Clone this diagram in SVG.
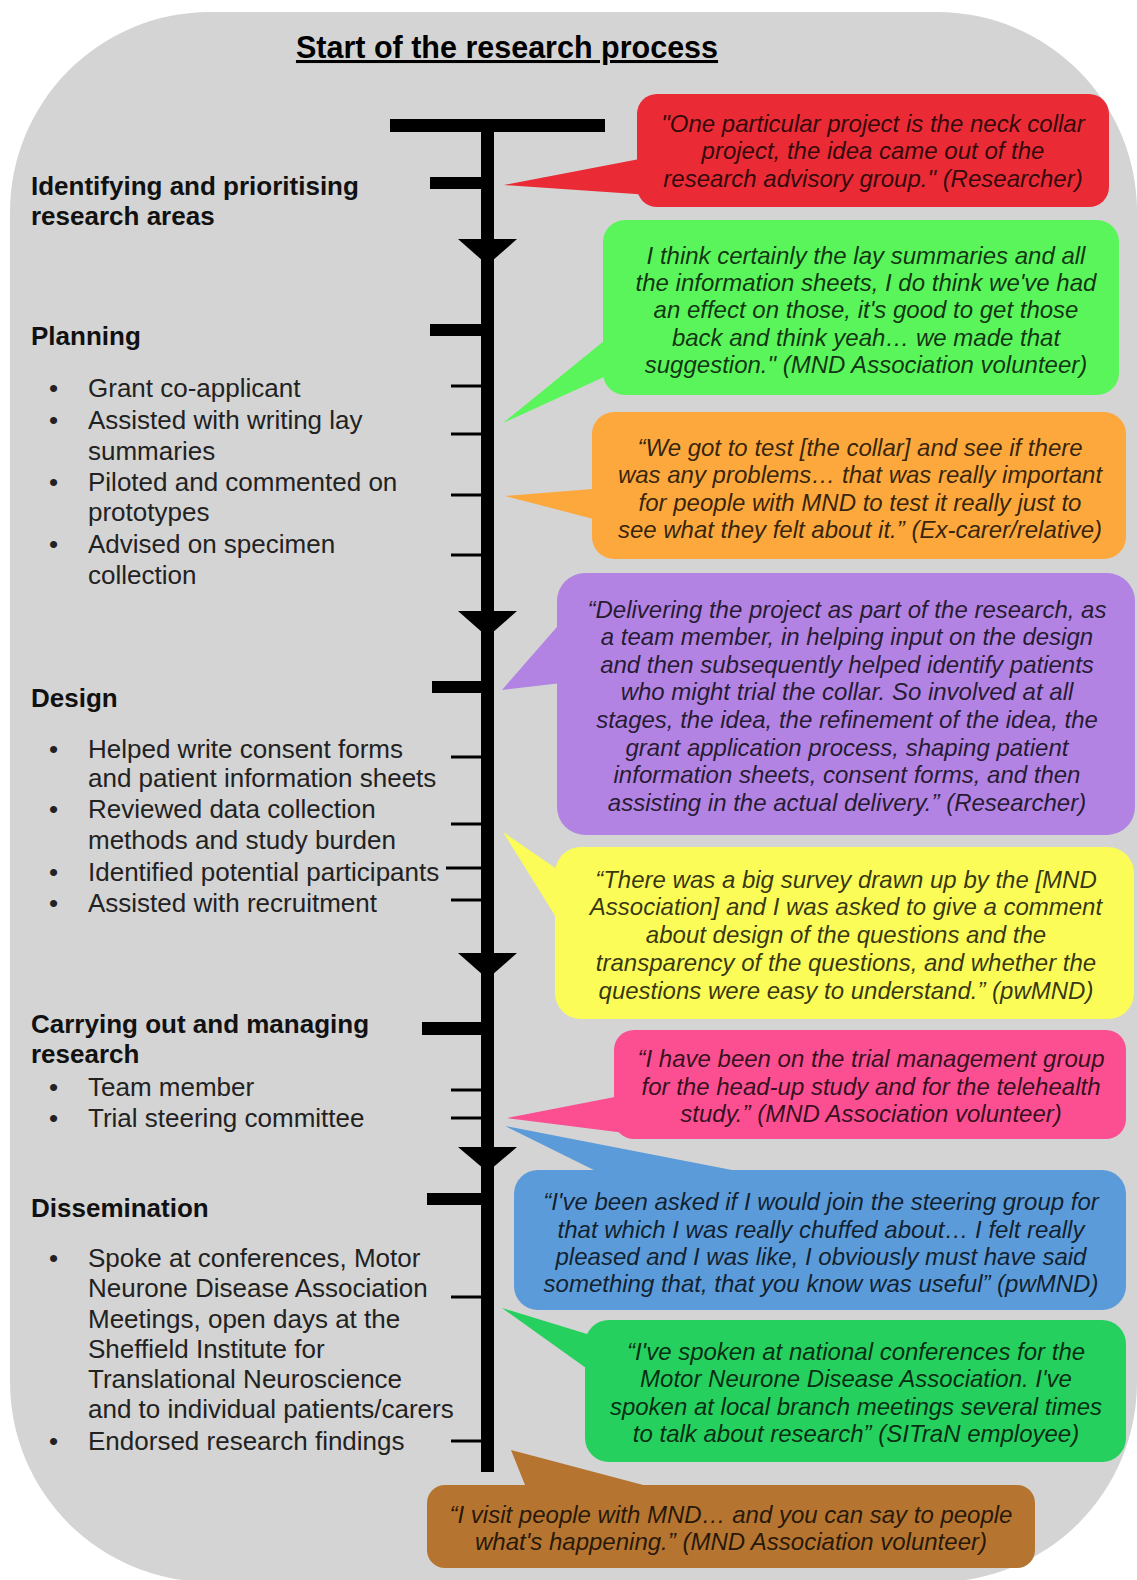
<svg xmlns="http://www.w3.org/2000/svg" width="1137" height="1580" viewBox="0 0 1137 1580">
<style>
.h{font-family:"Liberation Sans",Arial,sans-serif;font-weight:bold;font-size:26px;fill:#111}
.b{font-family:"Liberation Sans",Arial,sans-serif;font-size:26px;fill:#222}
.q{font-family:"Liberation Sans",Arial,sans-serif;font-style:italic;font-size:24px;fill:#000;fill-opacity:0.8;text-anchor:middle}
.tl{fill:#000}
.tk{fill:#000}
</style>
<rect id="background" x="10" y="12" width="1127" height="1570" rx="200" ry="200" fill="#d4d4d4"/>
<g id="title">
<text x="507" y="58" text-anchor="middle" font-family="Liberation Sans, Arial, sans-serif" font-weight="bold" font-size="30.5" text-decoration="underline" fill="#000">Start of the research process</text>
</g>

<g id="connectors">
<rect class="tl" x="390" y="119" width="215" height="13"/>
<rect class="tl" x="481" y="125" width="13" height="1347"/>
<polygon class="tl" points="458,239 517,239 487.5,265"/>
<polygon class="tl" points="458,611 517,611 487.5,637"/>
<polygon class="tl" points="458,953 517,953 487.5,979"/>
<polygon class="tl" points="458,1147 517,1147 487.5,1172"/>
<rect class="tk" x="430" y="177" width="58" height="12"/>
<rect class="tk" x="430" y="324" width="58" height="12"/>
<rect class="tk" x="432" y="681" width="56" height="12"/>
<rect class="tk" x="422" y="1022" width="66" height="13"/>
<rect class="tk" x="427" y="1193" width="61" height="12"/>
<rect class="tk" x="451" y="384.5" width="37" height="3"/>
<rect class="tk" x="451" y="432.5" width="37" height="3"/>
<rect class="tk" x="451" y="493.5" width="37" height="3"/>
<rect class="tk" x="451" y="553.5" width="37" height="3"/>
<rect class="tk" x="451" y="755.5" width="37" height="3"/>
<rect class="tk" x="451" y="822.5" width="37" height="3"/>
<rect class="tk" x="446" y="866.5" width="42" height="3"/>
<rect class="tk" x="451" y="898.5" width="37" height="3"/>
<rect class="tk" x="451" y="1088.5" width="37" height="3"/>
<rect class="tk" x="451" y="1116.5" width="37" height="3"/>
<rect class="tk" x="451" y="1295.5" width="37" height="3"/>
<rect class="tk" x="451" y="1439.5" width="37" height="3"/>
</g>

<g id="stage-identifying">
<text class="h" x="31" y="195">Identifying and prioritising</text>
<text class="h" x="31" y="225">research areas</text>
</g>

<g id="stage-planning">
<text class="h" x="31" y="345">Planning</text>
<text class="b" x="49" y="397">•</text><text class="b" x="88" y="397">Grant co-applicant</text>
<text class="b" x="49" y="429">•</text><text class="b" x="88" y="429">Assisted with writing lay</text>
<text class="b" x="88" y="460">summaries</text>
<text class="b" x="49" y="491">•</text><text class="b" x="88" y="491">Piloted and commented on</text>
<text class="b" x="88" y="521">prototypes</text>
<text class="b" x="49" y="553">•</text><text class="b" x="88" y="553">Advised on specimen</text>
<text class="b" x="88" y="584">collection</text>
</g>

<g id="stage-design">
<text class="h" x="31" y="707">Design</text>
<text class="b" x="49" y="758">•</text><text class="b" x="88" y="758">Helped write consent forms</text>
<text class="b" x="88" y="787">and patient information sheets</text>
<text class="b" x="49" y="818">•</text><text class="b" x="88" y="818">Reviewed data collection</text>
<text class="b" x="88" y="849">methods and study burden</text>
<text class="b" x="49" y="881">•</text><text class="b" x="88" y="881">Identified potential participants</text>
<text class="b" x="49" y="912">•</text><text class="b" x="88" y="912">Assisted with recruitment</text>
</g>

<g id="stage-carrying-out">
<text class="h" x="31" y="1033">Carrying out and managing</text>
<text class="h" x="31" y="1063">research</text>
<text class="b" x="49" y="1096">•</text><text class="b" x="88" y="1096">Team member</text>
<text class="b" x="49" y="1127">•</text><text class="b" x="88" y="1127">Trial steering committee</text>
</g>

<g id="stage-dissemination">
<text class="h" x="31" y="1217">Dissemination</text>
<text class="b" x="49" y="1267">•</text><text class="b" x="88" y="1267">Spoke at conferences, Motor</text>
<text class="b" x="88" y="1297">Neurone Disease Association</text>
<text class="b" x="88" y="1328">Meetings, open days at the</text>
<text class="b" x="88" y="1358">Sheffield Institute for</text>
<text class="b" x="88" y="1388">Translational Neuroscience</text>
<text class="b" x="88" y="1418">and to individual patients/carers</text>
<text class="b" x="49" y="1450">•</text><text class="b" x="88" y="1450">Endorsed research findings</text>
</g>

<g id="quote-red">
<polygon points="504,185 650,157 650,195" fill="#ea2b36"/>
<rect x="637" y="94" width="472" height="113" rx="20" fill="#ea2b36"/>
<text class="q" x="873" y="132">"One particular project is the neck collar</text>
<text class="q" x="873" y="159">project, the idea came out of the</text>
<text class="q" x="873" y="187">research advisory group." (Researcher)</text>
</g>

<g id="quote-green">
<polygon points="503,423 615,332 615,372" fill="#5af55a"/>
<rect x="603" y="220" width="516" height="175" rx="22" fill="#5af55a"/>
<text class="q" x="866" y="264">I think certainly the lay summaries and all</text>
<text class="q" x="866" y="291">the information sheets, I do think we've had</text>
<text class="q" x="866" y="318">an effect on those, it's good to get those</text>
<text class="q" x="866" y="346">back and think yeah… we made that</text>
<text class="q" x="866" y="373">suggestion." (MND Association volunteer)</text>
</g>

<g id="quote-orange">
<polygon points="505,496 605,488 605,522" fill="#fca83c"/>
<rect x="592" y="412" width="534" height="147" rx="22" fill="#fca83c"/>
<text class="q" x="860" y="456">“We got to test [the collar] and see if there</text>
<text class="q" x="860" y="483">was any problems… that was really important</text>
<text class="q" x="860" y="511">for people with MND to test it really just to</text>
<text class="q" x="860" y="538">see what they felt about it.” (Ex-carer/relative)</text>
</g>

<g id="quote-purple">
<polygon points="502,690 570,612 570,682" fill="#b283e2"/>
<rect x="557" y="573" width="578" height="262" rx="28" fill="#b283e2"/>
<text class="q" x="847" y="618">“Delivering the project as part of the research, as</text>
<text class="q" x="847" y="645">a team member, in helping input on the design</text>
<text class="q" x="847" y="673">and then subsequently helped identify patients</text>
<text class="q" x="847" y="700">who might trial the collar. So involved at all</text>
<text class="q" x="847" y="728">stages, the idea, the refinement of the idea, the</text>
<text class="q" x="847" y="756">grant application process, shaping patient</text>
<text class="q" x="847" y="783">information sheets, consent forms, and then</text>
<text class="q" x="847" y="811">assisting in the actual delivery.” (Researcher)</text>
</g>

<g id="quote-yellow">
<polygon points="503,832 567,876 567,935" fill="#fcfc58"/>
<rect x="555" y="847" width="579" height="172" rx="26" fill="#fcfc58"/>
<text class="q" x="846" y="888">“There was a big survey drawn up by the [MND</text>
<text class="q" x="846" y="915">Association] and I was asked to give a comment</text>
<text class="q" x="846" y="943">about design of the questions and the</text>
<text class="q" x="846" y="971">transparency of the questions, and whether the</text>
<text class="q" x="846" y="999">questions were easy to understand.” (pwMND)</text>
</g>

<g id="quote-pink">
<polygon points="507,1118 625,1095 625,1133" fill="#fb4f92"/>
<rect x="614" y="1030" width="512" height="109" rx="20" fill="#fb4f92"/>
<text class="q" x="871" y="1067">“I have been on the trial management group</text>
<text class="q" x="871" y="1095">for the head-up study and for the telehealth</text>
<text class="q" x="871" y="1122">study.” (MND Association volunteer)</text>
</g>

<g id="quote-blue">
<polygon points="505,1126 773,1178 610,1178" fill="#5b9bd9"/>
<rect x="514" y="1170" width="612" height="140" rx="24" fill="#5b9bd9"/>
<text class="q" x="821" y="1210">“I've been asked if I would join the steering group for</text>
<text class="q" x="821" y="1238">that which I was really chuffed about… I felt really</text>
<text class="q" x="821" y="1265">pleased and I was like, I obviously must have said</text>
<text class="q" x="821" y="1292">something that, that you know was useful” (pwMND)</text>
</g>

<g id="quote-green2">
<polygon points="502,1308 600,1338 600,1378" fill="#26d05e"/>
<rect x="585" y="1320" width="541" height="142" rx="24" fill="#26d05e"/>
<text class="q" x="856" y="1360">“I've spoken at national conferences for the</text>
<text class="q" x="856" y="1387">Motor Neurone Disease Association. I've</text>
<text class="q" x="856" y="1415">spoken at local branch meetings several times</text>
<text class="q" x="856" y="1442">to talk about research” (SITraN employee)</text>
</g>

<g id="quote-brown">
<polygon points="511,1450 681,1495 529,1495" fill="#b5742f"/>
<rect x="427" y="1485" width="608" height="83" rx="18" fill="#b5742f"/>
<text class="q" x="731" y="1523">“I visit people with MND… and you can say to people</text>
<text class="q" x="731" y="1550">what's happening.” (MND Association volunteer)</text>
</g>
</svg>
